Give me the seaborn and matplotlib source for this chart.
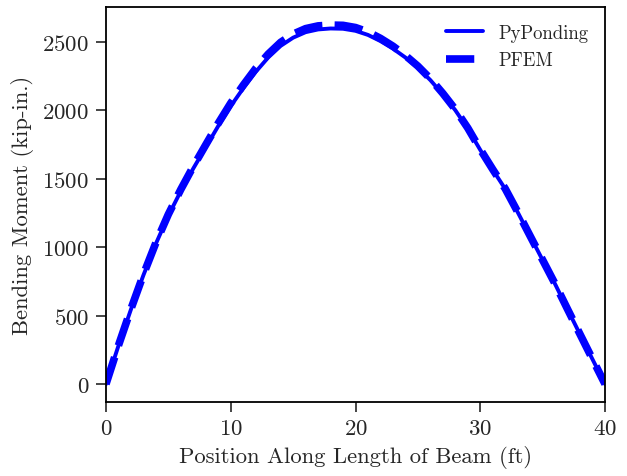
import numpy as np
import pandas as pd
import matplotlib
matplotlib.use("Agg")
import matplotlib.pyplot as plt
import seaborn as sns

# Data
position_ft = [0, 1, 2, 3, 4, 5, 6, 7, 8, 9, 10, 11, 12, 13, 14, 15, 16, 17, 18, 19, 20,
               21, 22, 23, 24, 25, 26, 27, 28, 29, 30, 31, 32, 33, 34, 35, 36, 37, 38, 39, 40]
pyponding_moment = [0, 280, 545, 795, 1025, 1230, 1410, 1575, 1730, 1885, 2030, 2160, 2280,
                    2385, 2470, 2530, 2570, 2590, 2597, 2595, 2580, 2550, 2505, 2450, 2385,
                    2310, 2220, 2115, 2000, 1865, 1710, 1565, 1425, 1255, 1080, 905, 730,
                    545, 362, 180, 0]
pfem_moment = [0, 282, 548, 800, 1032, 1240, 1422, 1590, 1748, 1905, 2052, 2183, 2305,
               2410, 2496, 2556, 2596, 2616, 2622, 2620, 2604, 2572, 2525, 2468, 2400,
               2322, 2230, 2123, 2006, 1870, 1714, 1568, 1427, 1257, 1081, 906, 731,
               546, 363, 181, 0]

x_label = "Position Along Length of Beam (ft)"
y_label = "Bending Moment (kip-in.)"
x_ticks = [0, 10, 20, 30, 40]
y_ticks = [0, 500, 1000, 1500, 2000, 2500]

sns.set_style("ticks")
plt.rcParams["font.family"] = ["cmr10", "DejaVu Serif"]
plt.rcParams["mathtext.fontset"] = "cm"
plt.rcParams["axes.formatter.use_mathtext"] = True

df = pd.DataFrame({"x": position_ft, "PyPonding": pyponding_moment, "PFEM": pfem_moment})

fig = plt.figure(figsize=(6.27, 4.77), dpi=100)
ax = fig.add_axes([0.169, 0.155, 0.796, 0.828])

sns.lineplot(data=df, x="x", y="PyPonding", ax=ax, color="#0000ff", lw=2.8,
             label="PyPonding")
sns.lineplot(data=df, x="x", y="PFEM", ax=ax, color="#0000ff", lw=5.5,
             linestyle="--", label="PFEM")

ax.set_xlim(0, 40)
ax.set_xticks(x_ticks)
ax.set_yticks(y_ticks)
ax.set_xlabel(x_label, fontsize=16.3, labelpad=5)
ax.set_ylabel(y_label, fontsize=16.3, labelpad=6)
ax.tick_params(labelsize=16.5, direction="out", length=7, width=1.2, pad=5)
for s in ax.spines.values():
    s.set_linewidth(1.3)
    s.set_color("black")

ax.legend(loc="upper right", frameon=False, fontsize=13.5)

fig.savefig("out.png", dpi=100)
